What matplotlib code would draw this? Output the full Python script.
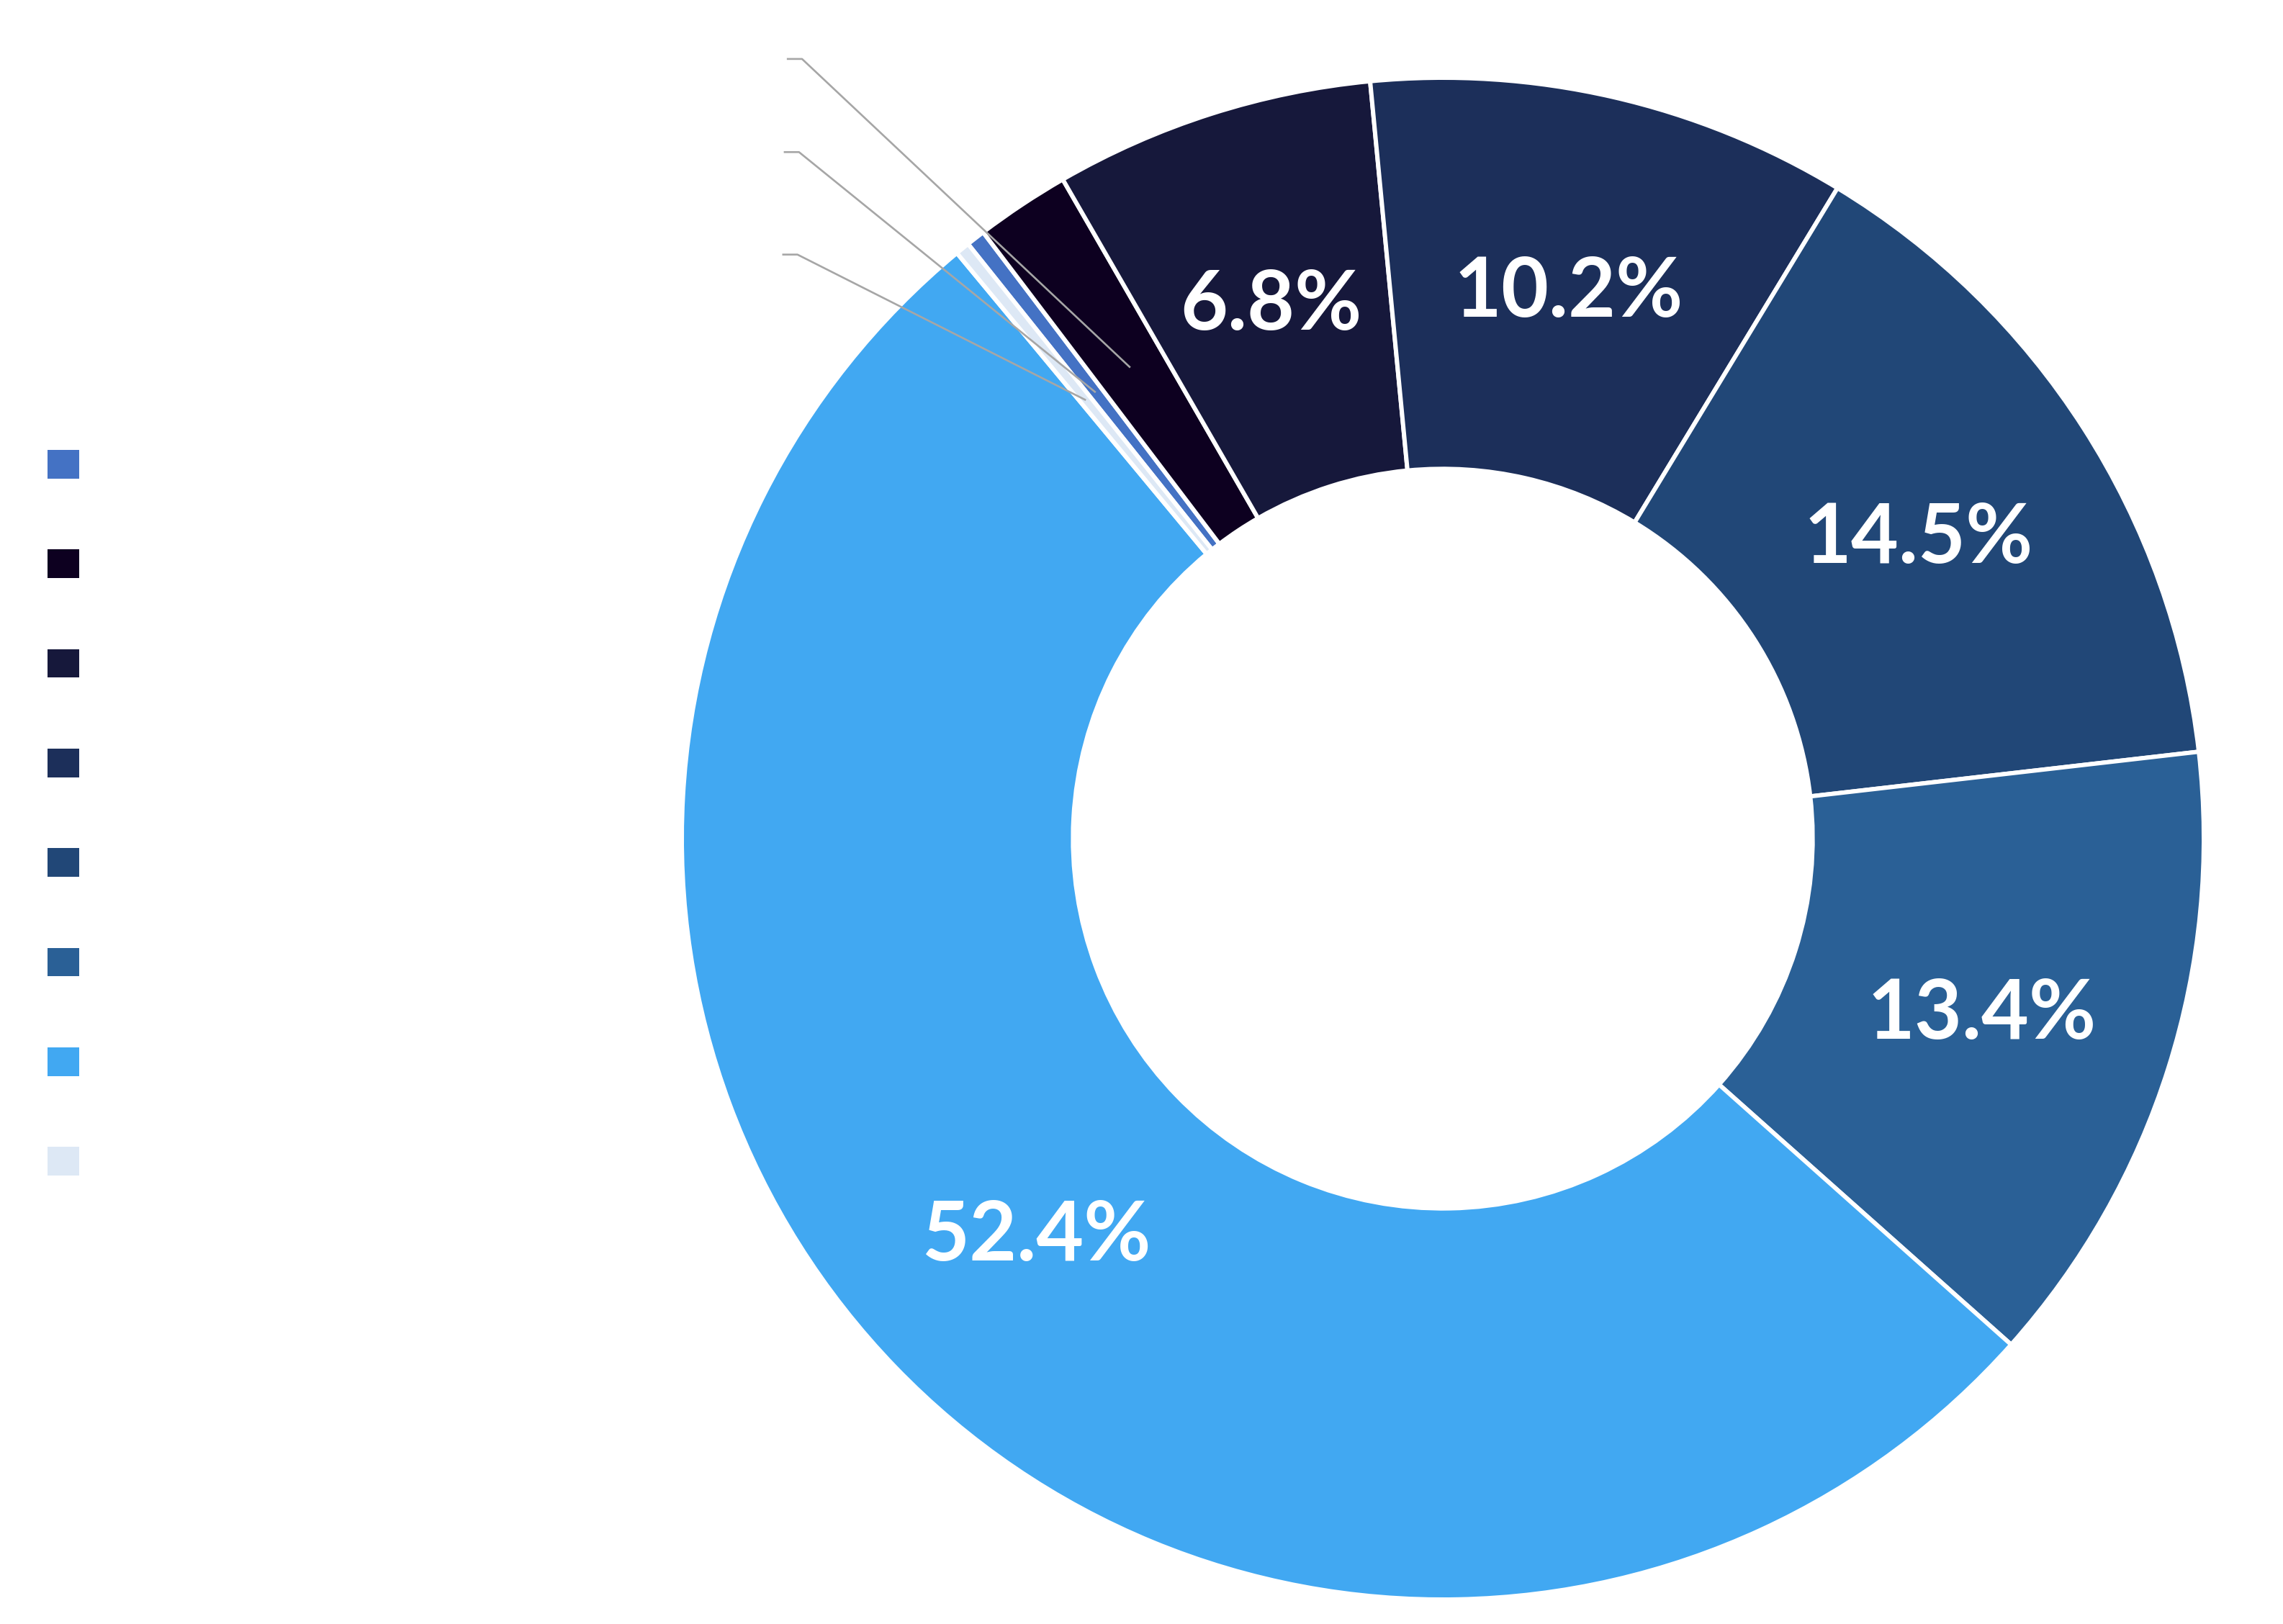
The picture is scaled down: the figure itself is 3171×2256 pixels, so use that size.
import numpy as np
import matplotlib
matplotlib.use("Agg")
import matplotlib.pyplot as plt
from matplotlib.patches import Patch

# ---- data ----
categories = ["Category 1", "Category 2", "Category 3", "Category 4",
              "Category 5", "Category 6", "Category 7", "Category 8"]
shares = [0.4, 2.0, 6.8, 10.2, 14.5, 13.4, 52.4, 0.3]
colors = ["#4472C4", "#0D0020", "#16183B", "#1C2F5A",
          "#214777", "#2A6096", "#41A8F2", "#DDE8F5"]
small_labels = ["0.4%", "2.0%", None, None, None, None, None, "0.3%"]

W, H, DPI = 3171, 2256, 100
fig = plt.figure(figsize=(W / DPI, H / DPI), dpi=DPI)
fig.patch.set_facecolor("white")

cx, cy, R = 2004, 1165, 1057  # pixel layout of the donut
ax = fig.add_axes([0, 0, 1, 1])

FS = 82
FONT = ["Lato", "DejaVu Sans"]

def autopct(p):
    return f"{p:.1f}%" if p >= 5 else ""

wedges, texts, autotexts = ax.pie(
    shares, colors=colors, startangle=128.6, counterclock=False,
    radius=1.0, autopct=autopct, pctdistance=0.743,
    wedgeprops=dict(width=0.514, edgecolor="white", linewidth=4.3),
    textprops=dict(color="white", fontsize=FS, fontweight="bold",
                   family=FONT),
)
ax.set_xlim(-cx / R, (W - cx) / R)
ax.set_ylim(-(H - cy) / R, cy / R)
ax.set_axis_off()

# put visual centre of the digits on the ring centre line
half_cap = FS * DPI / 72 * 0.7165 / 2 / R
for t in autotexts:
    x, y = t.get_position()
    t.set_position((x, y - half_cap))
    t.set_va("baseline")

# leader lines and (white) labels for the tiny slices
label_rows = {1: (-0.862, 1.0247), 0: (-0.866, 0.9023), 7: (-0.868, 0.7676)}
for i, (xs, ytxt) in label_rows.items():
    w = wedges[i]
    mid = np.deg2rad((w.theta1 + w.theta2) / 2)
    ex, ey = 0.743 * np.cos(mid), 0.743 * np.sin(mid)
    ax.plot([xs, xs + 0.02, ex], [ytxt, ytxt, ey],
            color="#A6A6A6", lw=1.9, solid_capstyle="butt", zorder=5)
    ax.text(xs - 0.01, ytxt, small_labels[i], color="white",
            fontsize=FS, fontweight="bold", family=FONT,
            ha="right", va="center")

# legend (white labels)
handles = [Patch(facecolor=c, edgecolor="none") for c in colors]
leg = fig.legend(handles, categories, loc="upper left",
                 bbox_to_anchor=(66 / W, 1 - 625 / H),
                 frameon=False, fontsize=32, handlelength=1.0,
                 handleheight=1.0, handletextpad=0.8, labelspacing=2.12,
                 borderpad=0, borderaxespad=0, labelcolor="white")

fig.savefig("out.png", dpi=DPI, facecolor="white")
